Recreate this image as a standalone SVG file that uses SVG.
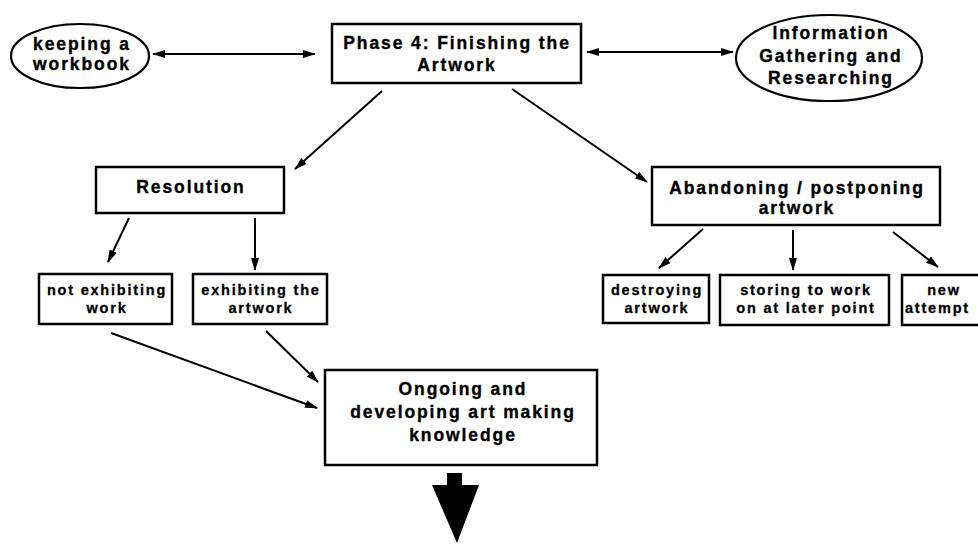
<svg xmlns="http://www.w3.org/2000/svg" width="978" height="544" viewBox="0 0 978 544">
  <style>
    .box { fill: #fff; stroke: #000; stroke-width: 2.5; }
    .oval { fill: #fff; stroke: #000; stroke-width: 2.2; }
    .big { font-family: "Liberation Sans", Arial, sans-serif; font-weight: bold; font-size: 17.5px; letter-spacing: 1.9px; text-anchor: middle; fill: #000; stroke: #000; stroke-width: 0.35; }
    .small { font-family: "Liberation Sans", Arial, sans-serif; font-weight: bold; font-size: 14.5px; letter-spacing: 1.8px; text-anchor: middle; fill: #000; stroke: #000; stroke-width: 0.3; }
    .link { stroke: #000; stroke-width: 2; fill: none; marker-end: url(#head); }
    .both { marker-start: url(#head); }
  </style>
  <defs>
    <marker id="head" markerUnits="userSpaceOnUse" markerWidth="13" markerHeight="8" refX="12" refY="4" orient="auto-start-reverse">
      <path d="M0,0 L13,4 L0,8 Z" fill="#000"/>
    </marker>
  </defs>
  <rect width="978" height="544" fill="#fff"/>

  <!-- connectors -->
  <g id="connectors">
    <line class="link both" x1="153" y1="54" x2="315" y2="54"/>
    <line class="link both" x1="587" y1="52" x2="733" y2="52"/>
    <line class="link" x1="382" y1="91" x2="295" y2="169"/>
    <line class="link" x1="512" y1="89" x2="647" y2="182"/>
    <line class="link" x1="129" y1="218" x2="108" y2="262"/>
    <line class="link" x1="255" y1="218" x2="255" y2="270"/>
    <line class="link" x1="703" y1="229" x2="659" y2="268"/>
    <line class="link" x1="793" y1="230" x2="793" y2="270"/>
    <line class="link" x1="893" y1="232" x2="938" y2="267"/>
    <line class="link" x1="111" y1="333" x2="317" y2="408"/>
    <line class="link" x1="266" y1="331" x2="318" y2="382"/>
    <polygon points="447,473 462,473 462,485 479,485 457,543 432,485 447,485" fill="#000"/>
  </g>

  <g id="workbook">
    <ellipse class="oval" cx="80" cy="56" rx="69" ry="32"/>
    <text class="big" x="82" y="50">keeping a</text>
    <text class="big" x="82" y="70">workbook</text>
  </g>

  <g id="phase4">
    <rect class="box" x="332" y="24" width="249" height="59"/>
    <text class="big" x="457" y="49">Phase 4: Finishing the</text>
    <text class="big" x="457" y="71">Artwork</text>
  </g>

  <g id="research">
    <ellipse class="oval" cx="829" cy="58" rx="93" ry="43"/>
    <text class="big" x="831" y="39">Information</text>
    <text class="big" x="831" y="62">Gathering and</text>
    <text class="big" x="831" y="84">Researching</text>
  </g>

  <g id="resolution">
    <rect class="box" x="96" y="167" width="188" height="46"/>
    <text class="big" x="191" y="193">Resolution</text>
  </g>

  <g id="abandoning">
    <rect class="box" x="652" y="167" width="288" height="58"/>
    <text class="big" x="797" y="194">Abandoning / postponing</text>
    <text class="big" x="797" y="214">artwork</text>
  </g>

  <g id="not-exhibiting">
    <rect class="box" x="39" y="274" width="133" height="50"/>
    <text class="small" x="107" y="295">not exhibiting</text>
    <text class="small" x="107" y="313">work</text>
  </g>

  <g id="exhibiting">
    <rect class="box" x="193" y="274" width="134" height="50"/>
    <text class="small" x="261" y="295">exhibiting the</text>
    <text class="small" x="261" y="313">artwork</text>
  </g>

  <g id="destroying">
    <rect class="box" x="603" y="275" width="106" height="48"/>
    <text class="small" x="657" y="295">destroying</text>
    <text class="small" x="657" y="313">artwork</text>
  </g>

  <g id="storing">
    <rect class="box" x="720" y="275" width="169" height="50"/>
    <text class="small" x="806" y="295">storing to work</text>
    <text class="small" x="806" y="313">on at later point</text>
  </g>

  <g id="new-attempt">
    <rect class="box" x="902" y="275" width="100" height="50"/>
    <text class="small" x="944" y="295">new</text>
    <text class="small" x="905" y="313" style="text-anchor:start">attempt</text>
  </g>

  <g id="ongoing">
    <rect class="box" x="325" y="370" width="272" height="95"/>
    <text class="big" x="463" y="395">Ongoing and</text>
    <text class="big" x="463" y="418">developing art making</text>
    <text class="big" x="463" y="441">knowledge</text>
  </g>
</svg>
